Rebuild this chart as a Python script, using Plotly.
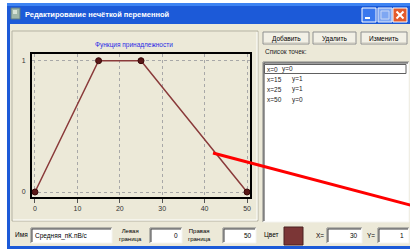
import plotly.graph_objects as go

# ---- data ----
x_points = [0, 15, 25, 50]
y_points = [0, 1, 1, 0]
x_ticks = [0, 10, 20, 30, 40, 50]
y_ticks = [0, 1]
window_title = "Редактирование нечёткой переменной"
chart_title = "Функция принадлежности"
button_labels = ["Добавить", "Удалить", "Изменить"]
var_name = "Средняя_пК.пВ/с"
left_bound = 0
right_bound = 50
cur_x = 30
cur_y = 1

W, H = 410, 249
BEIGE = "#ECE9D8"
FONT = "Liberation Sans"


def px(x):
    return x / W


def py(y):
    return 1 - y / H


shapes = []
annotations = []


def rect(x0, y0, x1, y1, fill, line=None, lw=1, layer="below"):
    shapes.append(dict(type="rect", xref="paper", yref="paper",
                       x0=px(x0), x1=px(x1), y0=py(y1), y1=py(y0),
                       fillcolor=fill, layer=layer,
                       line=dict(color=line or fill, width=lw if line else 0)))


def seg(x0, y0, x1, y1, color, lw=1, layer="below", dash=None):
    d = dict(color=color, width=lw)
    if dash:
        d["dash"] = dash
    shapes.append(dict(type="line", xref="paper", yref="paper",
                       x0=px(x0), x1=px(x1), y0=py(y0), y1=py(y1),
                       line=d, layer=layer))


def text(x, y, s, size=7, color="#000000", xa="left", ya="middle", bold=False):
    if bold:
        s = "<b>" + s + "</b>"
    annotations.append(dict(xref="paper", yref="paper", x=px(x), y=py(y), text=s,
                            showarrow=False, xanchor=xa, yanchor=ya,
                            font=dict(family=FONT, size=size, color=color)))


def sunken(x0, y0, x1, y1, fill="#FFFFFF"):
    rect(x0, y0, x1, y1, fill)
    seg(x0, y0, x1, y0, "#808080")
    seg(x0, y0, x0, y1, "#808080")
    seg(x0 + 1, y0 + 1, x1 - 1, y0 + 1, "#404040")
    seg(x0 + 1, y0 + 1, x0 + 1, y1 - 1, "#404040")
    seg(x0, y1, x1, y1, "#F4F4F0")
    seg(x1, y0, x1, y1, "#F4F4F0")


def button(x0, y0, x1, y1, label):
    rect(x0, y0, x1, y1, "#F2F0E6", "#8E8F8F", 1)
    seg(x0 + 1, y1 - 1, x1 - 1, y1 - 1, "#C9C7BA")
    text((x0 + x1) / 2, (y0 + y1) / 2 + 0.5, label, size=6.5, xa="center")


# ---- window chrome ----
rect(7, 3, 412, 252, "#1C5AD8")
rect(7, 3, 412, 6, "#3D83F2")
rect(10, 24, 412, 246, BEIGE)
# icon
rect(11, 8, 20, 19, "#9FB7A8", "#5C7A86", 1)
rect(13, 10, 17, 14, "#D7E3D6")
text(23, 14.5, window_title, size=7.5, color="#FFFFFF", bold=True)
# caption buttons
rect(362, 8, 376, 22, "#3A78EE", "#FFFFFF", 1)
seg(365, 18, 370, 18, "#FFFFFF", 2)
rect(378, 8, 392, 22, "#7FA7F2", "#E8EEFB", 1)
rect(381, 11, 389, 19, "rgba(0,0,0,0)", "#C7D6F5", 1)
rect(393, 8, 407, 22, "#E35B2C", "#FFFFFF", 1)
seg(396.5, 11.5, 403.5, 18.5, "#FFFFFF", 2)
seg(396.5, 18.5, 403.5, 11.5, "#FFFFFF", 2)

# chart panel border
rect(12, 31, 258, 221, "rgba(0,0,0,0)", "#B5B3A3", 1)
seg(13, 220, 257, 220, "#FFFFFF")
seg(257, 32, 257, 220, "#FFFFFF")
text(134, 45, chart_title, size=6.5, color="#2A2AE6", xa="center")

# buttons
btn_x = [(263, 309), (313, 356), (361, 407)]
for (a, b), lab in zip(btn_x, button_labels):
    button(a, 32, b, 44, lab)

text(263, 51, "Список точек:", size=6.5, color="#222222")
sunken(263, 62, 409, 222)
rect(264.5, 64.5, 406, 73.5, "#FFFFFF", "#606060", 1)
for i, (xv, yv) in enumerate(zip(x_points, y_points)):
    yy = 69 + i * 10.2
    text(265, yy, f"x={xv}", size=6.5, color="#222222")
    text(280 if i == 0 else 290, yy, f"y={yv}", size=6.5, color="#222222")

# bottom row
text(13, 234, "Имя", size=6.5)
sunken(31, 228, 112, 243)
text(33, 235.5, var_name, size=6.5)
text(117, 235, "Левая<br>граница", size=6)
sunken(150, 228, 182, 243)
text(180, 235.5, str(left_bound), size=6.5, xa="right")
text(186, 235, "Правая<br>граница", size=6)
sunken(223, 228, 256, 243)
text(254, 235.5, str(right_bound), size=6.5, xa="right")
text(262, 235, "Цвет", size=6.5)
rect(284, 227, 303, 245, "#7B3636", "#4A2020", 1)
text(314, 235, "X=", size=6.5)
sunken(327, 228, 362, 243)
text(360, 235.5, str(cur_x), size=6.5, xa="right")
text(365, 235, "Y=", size=6.5)
sunken(378, 228, 409, 243)
text(406, 235.5, str(cur_y), size=6.5, xa="right")

# red pointer line (drawn on top)
seg(213, 153, 412, 205.5, "#FF0000", 3, layer="above")

# ---- chart ----
fig = go.Figure()
fig.add_trace(go.Scatter(
    x=x_points, y=y_points, mode="lines+markers",
    line=dict(color="#8A3A3A", width=1.5),
    marker=dict(size=6, color="#5A1818", line=dict(color="#3A0808", width=1)),
    showlegend=False, hoverinfo="skip", cliponaxis=False))

x_dom = [px(32), px(250)]
y_dom = [py(197), py(54)]

fig.update_layout(
    width=W, height=H, autosize=False,
    margin=dict(l=0, r=0, t=0, b=0),
    paper_bgcolor="#FFFFFF", plot_bgcolor="rgba(0,0,0,0)",
    shapes=shapes, annotations=annotations,
    xaxis=dict(domain=x_dom, range=[-0.7, 50.7], tickvals=x_ticks,
               showgrid=True, gridcolor="#A8A8A8", griddash="dot", gridwidth=1,
               zeroline=False, showline=True, linecolor="#000000", linewidth=2,
               mirror=True, ticks="outside", ticklen=4, tickcolor="#555555",
               tickfont=dict(family=FONT, size=7, color="#333333"), fixedrange=True),
    yaxis=dict(domain=y_dom, range=[-0.038, 1.051], tickvals=y_ticks,
               showgrid=True, gridcolor="#A8A8A8", griddash="dot", gridwidth=1,
               zeroline=False, showline=True, linecolor="#000000", linewidth=2,
               mirror=True, ticks="", ticklabelstandoff=3,
               tickfont=dict(family=FONT, size=7, color="#333333"), fixedrange=True),
)

fig.write_html("out.html", config={"displayModeBar": False},
               post_script="document.body.style.margin='0';document.body.style.overflow='hidden';")
